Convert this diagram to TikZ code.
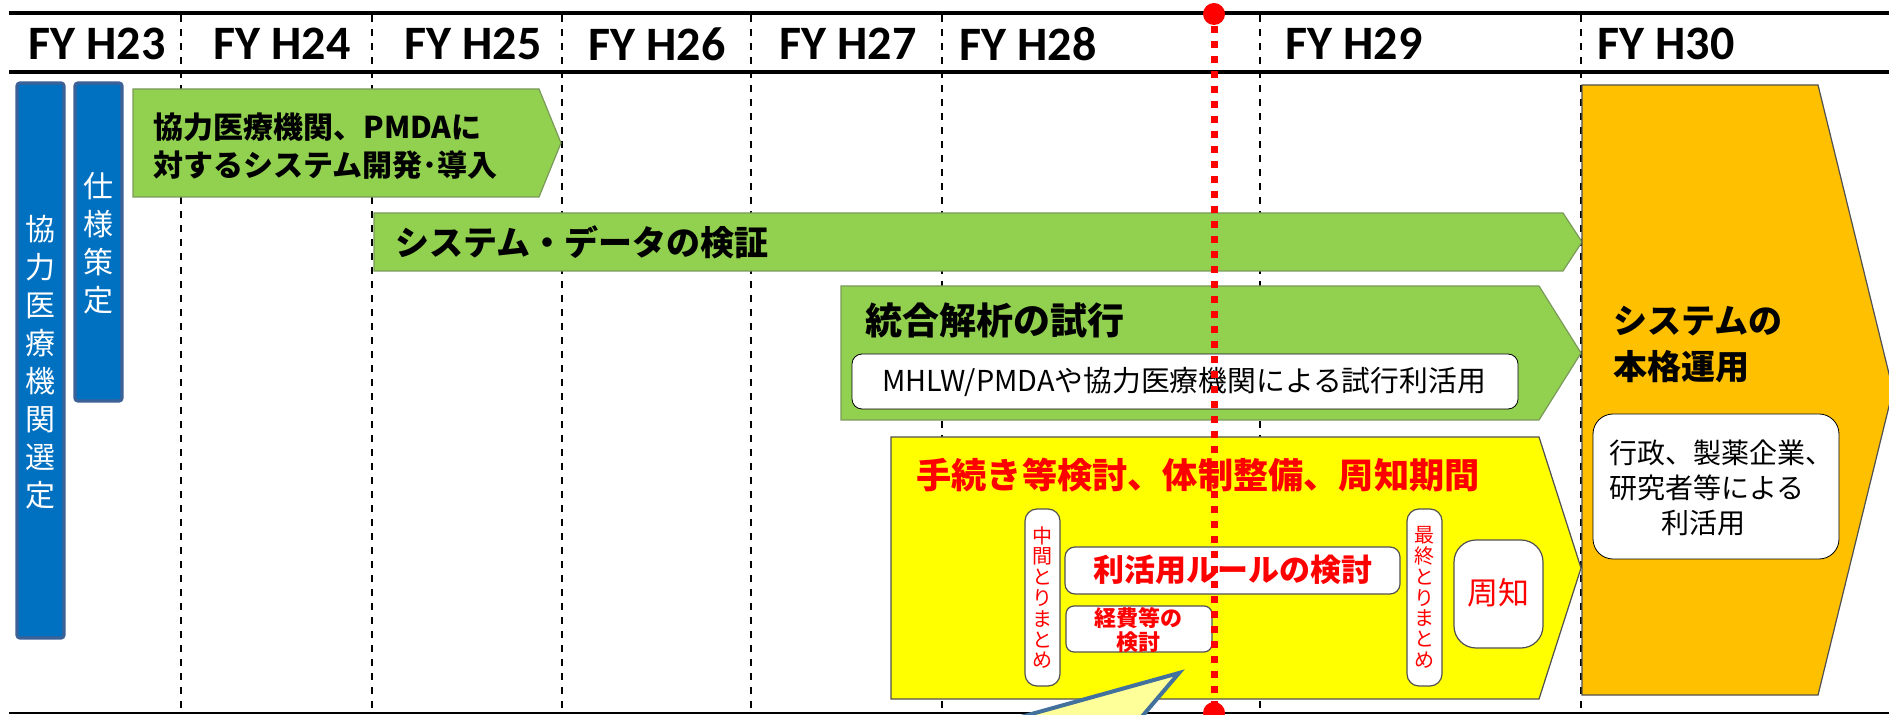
\documentclass[tikz,border=0pt]{standalone}
\usepackage{fontspec}
\newfontfamily\jp{Noto Sans CJK JP}
\newfontfamily\carlito{Carlito}
\definecolor{grn}{HTML}{92D050}
\definecolor{grnline}{HTML}{7A9A5A}
\definecolor{blu}{HTML}{0070C0}
\definecolor{bluline}{HTML}{3B6196}
\definecolor{yel}{HTML}{FFFF00}
\definecolor{org}{HTML}{FFC000}
\definecolor{callfill}{HTML}{FFFF99}
\definecolor{callline}{HTML}{41719C}
\definecolor{redx}{HTML}{FF0000}
\definecolor{boxline}{HTML}{505050}
\tikzset{
  yearlbl/.style={font=\carlito\bfseries\fontsize{24pt}{28pt}\selectfont, inner sep=0pt},
  hline/.style={line width=1.75pt, black},
  vdash/.style={line width=1pt, black, dash pattern=on 3.5pt off 3.5pt},
  bluebox/.style={fill=blu, draw=bluline, line width=1.6pt, rounded corners=1.5pt},
  greenarrow/.style={fill=grn, draw=grnline, line width=0.6pt},
  yelarrow/.style={fill=yel, draw=boxline, line width=0.6pt},
  orgarrow/.style={fill=org, draw=boxline, line width=0.6pt},
  whitebox/.style={fill=white, draw=boxline, line width=0.6pt},
  plainwhite/.style={fill=white},
  vtextw/.style={font=\jp\fontsize{15pt}{19pt}\selectfont, text=white, align=center, inner sep=0pt},
  vtextr/.style={font=\jp\fontsize{10pt}{10.4pt}\selectfont, text=redx, align=center, inner sep=0pt},
  blackbold/.style={font=\jp\bfseries, text=black, align=left, inner sep=0pt},
  reddash/.style={line width=3.5pt, redx, dash pattern=on 3.5pt off 4pt},
}
\begin{document}
\begin{tikzpicture}[x=0.5pt,y=-0.5pt]
\useasboundingbox (0,0) rectangle (1889,715);
\clip (0,0) rectangle (1889,715);
\fill[white] (0,0) rectangle (1889,715);

% vertical dashed year separators
\foreach \x in {181,372,562,751,942,1260,1581}
  \draw[vdash] (\x,15) -- (\x,715);

% horizontal rules
\draw[hline] (9,13) -- (1889,13);
\draw[hline] (9,72) -- (1889,72);
\draw[line width=1pt] (9,713) -- (1889,713);

% year labels
\node[yearlbl] (y23) at (97,44) {FY H23};
\node[yearlbl] (y24) at (282,44) {FY H24};
\node[yearlbl] (y25) at (473,44) {FY H25};
\node[yearlbl] (y26) at (657,44) {FY H26};
\node[yearlbl] (y27) at (848,44) {FY H27};
\node[yearlbl] (y28) at (1028,44) {FY H28};
\node[yearlbl] (y29) at (1354,44) {FY H29};
\node[yearlbl] (y30) at (1666,44) {FY H30};

% blue boxes
\draw[bluebox] (17,83) rectangle (64,638);
\node[vtextw] (sel) at (40.5,362) {協\\力\\医\\療\\機\\関\\選\\定};
\draw[bluebox] (75,83) rectangle (122,401);
\node[vtextw] (spec) at (98.5,243) {仕\\様\\策\\定};

% green arrow 1
\draw[greenarrow] (133,89) -- (539,89) -- (561,143) -- (539,197) -- (133,197) -- cycle;
\node[blackbold, font=\jp\bfseries\fontsize{15pt}{19pt}\selectfont, anchor=west] (dev) at (153,146)
  {協力医療機関、PMDAに\\対するシステム開発･導入};

% green arrow 2
\draw[greenarrow] (374,213) -- (1563,213) -- (1582,242) -- (1563,271) -- (374,271) -- cycle;
\node[blackbold, font=\jp\bfseries\fontsize{17pt}{20pt}\selectfont, anchor=west] (verif) at (395,242)
  {システム・データの検証};

% green arrow 3
\draw[greenarrow] (841,286) -- (1539,286) -- (1581,353) -- (1539,420) -- (841,420) -- cycle;
\node[blackbold, font=\jp\bfseries\fontsize{18.5pt}{22pt}\selectfont, anchor=west] (trial) at (865,320)
  {統合解析の試行};
\draw[plainwhite, rounded corners=5pt] (852,354) rectangle (1518,409);
\node[font=\jp\fontsize{14.4pt}{17pt}\selectfont, inner sep=0pt] (trialuse) at (1184,382)
  {MHLW/PMDAや協力医療機関による試行利活用};

% yellow arrow
\draw[yelarrow] (891,437) -- (1539,437) -- (1581,568) -- (1539,699) -- (891,699) -- cycle;
\node[font=\jp\bfseries\fontsize{17.6pt}{20pt}\selectfont, text=redx, inner sep=0pt, anchor=west] (proc) at (916,475)
  {手続き等検討、体制整備、周知期間};
\draw[whitebox, rounded corners=6pt] (1025,509) rectangle (1060,686);
\node[vtextr] (mid) at (1042.5,597.5) {中\\間\\と\\り\\ま\\と\\め};
\draw[whitebox, rounded corners=6pt] (1407,509) rectangle (1442,686);
\node[vtextr] (fin) at (1424.5,597.5) {最\\終\\と\\り\\ま\\と\\め};
\draw[whitebox, rounded corners=5pt] (1065,547) rectangle (1400,594);
\node[font=\jp\bfseries\fontsize{15.5pt}{18pt}\selectfont, text=redx, inner sep=0pt] (rule) at (1233,570)
  {利活用ルールの検討};
\draw[whitebox, rounded corners=4pt] (1066,606) rectangle (1212,652);
\node[font=\jp\bfseries\fontsize{11pt}{12pt}\selectfont, text=redx, align=center, inner sep=0pt] (cost) at (1138,630)
  {経費等の\\検討};
\draw[whitebox, rounded corners=11pt] (1454,540) rectangle (1543,648);
\node[font=\jp\fontsize{15.5pt}{18pt}\selectfont, text=redx, inner sep=0pt] (notice) at (1498,593) {周知};

% orange arrow
\draw[orgarrow] (1582,85) -- (1818,85) -- (1893,390) -- (1818,695) -- (1582,695) -- cycle;
\node[blackbold, font=\jp\bfseries\fontsize{17pt}{23pt}\selectfont, anchor=west] (ops) at (1613,345)
  {システムの\\本格運用};
\draw[plainwhite, rounded corners=10pt] (1593,414) rectangle (1839,559);
\node[font=\jp\fontsize{14pt}{17.5pt}\selectfont, align=left, inner sep=0pt, anchor=west] (users) at (1609,488)
  {行政、製薬企業、\\研究者等による\\\hspace*{26pt}利活用};

% callout pointer
\draw[fill=callfill, draw=callline, line width=2pt, line join=miter] (938,740) -- (1179,673) -- (1122,740) -- cycle;

% red current-time line
\draw[reddash] (1214,26) -- (1214,703);
\fill[redx] (1214,14) circle (5.5pt);
\fill[redx] (1214,713) circle (5.5pt);
\end{tikzpicture}
\end{document}
